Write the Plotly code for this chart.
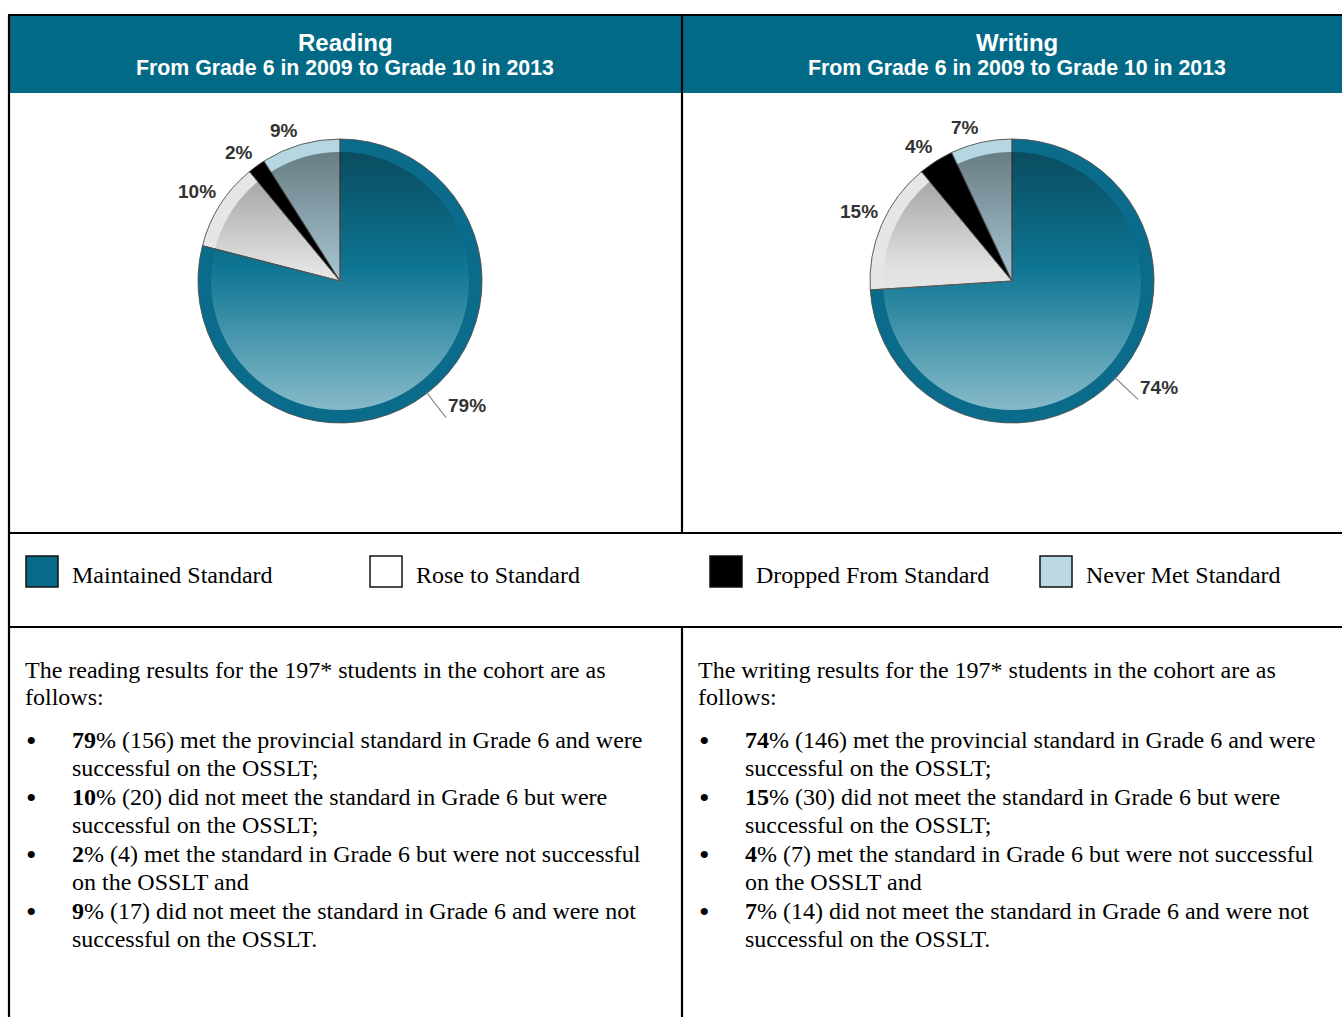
import base64
import math
import struct
import zlib

import numpy as np
import plotly.graph_objects as go

# ---- data ---------------------------------------------------------------
categories = ["Maintained Standard", "Rose to Standard",
              "Dropped From Standard", "Never Met Standard"]
reading_pct = [79, 10, 2, 9]
reading_n = [156, 20, 4, 17]
writing_pct = [74, 15, 4, 7]
writing_n = [146, 30, 7, 14]
cohort_size = 197
outcomes = [
    ("met the provincial standard in Grade 6 and were", "successful on the OSSLT;"),
    ("did not meet the standard in Grade 6 but were", "successful on the OSSLT;"),
    ("met the standard in Grade 6 but were not successful", "on the OSSLT and"),
    ("did not meet the standard in Grade 6 and were not", "successful on the OSSLT."),
]
panel_titles = ["Reading", "Writing"]
panel_subtitle = "From Grade 6 in 2009 to Grade 10 in 2013"

# ---- styling ------------------------------------------------------------
W, H = 1342, 1017
HEADER = "#026a87"
RIM = ["#0b6b8a", "#e6e6e6", "#000000", "#b6d7e2"]
FACE = ["#0f7694", "#e2e2e2", "#000000", "#a2c0cc"]
SWATCH = ["#056b88", "#ffffff", "#000000", "#b9d8e2"]
SANS = "Liberation Sans, Arial, sans-serif"
SERIF = "Liberation Serif, Times New Roman, serif"
BODY_SIZE = 24

R_OUT, R_IN = 142, 129
CENTERS = [(340, 281), (1012, 281)]


def fx(px):
    return px / W


def fy(py):
    return 1 - py / H


def domain(cx, cy, r):
    return dict(x=[fx(cx - r), fx(cx + r)], y=[fy(cy + r), fy(cy - r)])


def png_uri(rgba):
    h, w, _ = rgba.shape
    raw = b"".join(b"\x00" + rgba[i].tobytes() for i in range(h))

    def chunk(tag, data):
        body = tag + data
        return struct.pack(">I", len(data)) + body + struct.pack(">I", zlib.crc32(body) & 0xFFFFFFFF)

    png = (b"\x89PNG\r\n\x1a\n"
           + chunk(b"IHDR", struct.pack(">IIBBBBB", w, h, 8, 6, 0, 0, 0))
           + chunk(b"IDAT", zlib.compress(raw, 9))
           + chunk(b"IEND", b""))
    return "data:image/png;base64," + base64.b64encode(png).decode()


def shading(r):
    """Vertical light/dark shading for the inner face of a pie, clipped to a disc."""
    n = 2 * r
    yy, xx = np.mgrid[0:n, 0:n] + 0.5
    d = np.hypot(xx - r, yy - r)
    mask = np.clip(r - d + 0.5, 0, 1)
    t = yy / n
    dark = 0.35 * np.clip(1 - t / 0.45, 0, 1)
    light = 0.5 * np.clip((t - 0.45) / 0.55, 0, 1)
    rgb = np.where(dark > 0, 0, 255).astype(np.uint8)
    alpha = ((dark + light) * mask * 255).round().astype(np.uint8)
    img = np.zeros((n, n, 4), dtype=np.uint8)
    img[..., 0] = rgb
    img[..., 1] = rgb
    img[..., 2] = rgb
    img[..., 3] = alpha
    return png_uri(img)


def text(s, x, y, size, family, color="black", xanchor="left", yanchor="middle"):
    return dict(text=s, x=fx(x), y=fy(y), xref="paper", yref="paper", xanchor=xanchor,
                yanchor=yanchor, showarrow=False, align="left",
                font=dict(family=family, size=size, color=color))


fig = go.Figure()
shapes, annotations, images = [], [], []

shade_uri = shading(R_IN)

for k, (pct, counts) in enumerate([(reading_pct, reading_n), (writing_pct, writing_n)]):
    cx, cy = CENTERS[k]
    common = dict(labels=categories, values=pct, sort=False, direction="clockwise",
                  textinfo="none", hoverinfo="label+percent", showlegend=False)
    # outer rim
    fig.add_trace(go.Pie(domain=domain(cx, cy, R_OUT), marker=dict(colors=RIM, line=dict(width=0)), **common))
    # inner face
    fig.add_trace(go.Pie(domain=domain(cx, cy, R_IN), marker=dict(colors=FACE, line=dict(width=0)), **common))
    # slice outlines
    fig.add_trace(go.Pie(domain=domain(cx, cy, R_OUT),
                         marker=dict(colors=["rgba(0,0,0,0)"] * 4, line=dict(color="#4d4d4d", width=0.9)),
                         **common))
    images.append(dict(source=shade_uri, xref="paper", yref="paper",
                       x=fx(cx - R_IN), y=fy(cy - R_IN), sizex=2 * R_IN / W, sizey=2 * R_IN / H,
                       xanchor="left", yanchor="top", sizing="stretch", layer="above"))

    # percentage labels around each pie
    total = sum(pct)
    biggest = pct.index(max(pct))
    cum = 0
    for i, v in enumerate(pct):
        mid = (cum + v / 2) / total
        cum += v
        th = 2 * math.pi * mid
        dx, dy = math.sin(th), -math.cos(th)
        if i == biggest:
            x0, y0 = cx + dx * (R_OUT - 1), cy + dy * (R_OUT - 1)
            x1, y1 = cx + dx * (R_OUT + 31), cy + dy * (R_OUT + 31)
            shapes.append(dict(type="line", xref="paper", yref="paper",
                               x0=fx(x0), y0=fy(y0), x1=fx(x1), y1=fy(y1),
                               line=dict(color="#8a8a8a", width=1.2)))
            annotations.append(text(f"<b>{v}%</b>", x1, y1 - 12, 19, SANS, "#333333"))
        else:
            px, py = cx + dx * (R_OUT + 2), cy + dy * (R_OUT + 2)
            annotations.append(text(f"<b>{v}%</b>", px, py, 19, SANS, "#333333",
                                    xanchor="right" if dx < 0 else "left",
                                    yanchor="bottom" if dy < 0 else "top"))

    # header
    hx = (cx - 340) + 345
    annotations.append(text(f"<b>{panel_titles[k]}</b>", hx, 42, 24, SANS, "white", xanchor="center"))
    annotations.append(text(f"<b>{panel_subtitle}</b>", hx, 68, 21.3, SANS, "white", xanchor="center"))

    # description text below the legend
    ox = 673 * k
    subject = panel_titles[k].lower()
    annotations.append(text(f"The {subject} results for the {cohort_size}* students in the cohort are as",
                            23 + ox, 670, BODY_SIZE, SERIF))
    annotations.append(text("follows:", 23 + ox, 697, BODY_SIZE, SERIF))
    for i, (p, n) in enumerate(zip(pct, counts)):
        ly = 740 + 57 * i
        annotations.append(text("•", 31 + ox, ly, 30, SERIF, xanchor="center"))
        annotations.append(text(f"<b>{p}</b>% ({n}) {outcomes[i][0]}", 70 + ox, ly, BODY_SIZE, SERIF))
        annotations.append(text(outcomes[i][1], 70 + ox, ly + 28, BODY_SIZE, SERIF))

# legend row
swatch_x = [26, 370, 710, 1040]
for i, name in enumerate(categories):
    x0 = swatch_x[i]
    shapes.append(dict(type="rect", xref="paper", yref="paper",
                       x0=fx(x0), x1=fx(x0 + 32), y0=fy(587), y1=fy(556),
                       fillcolor=SWATCH[i], line=dict(color="#111111", width=1.5)))
    annotations.append(text(name, x0 + 44, 575, BODY_SIZE, SERIF))

# table frame
shapes.insert(0, dict(type="rect", xref="paper", yref="paper", x0=fx(9), x1=fx(W), y0=fy(93), y1=fy(15),
                      fillcolor=HEADER, line=dict(width=0), layer="below"))
frame = [
    (8, 15, W, 15), (9, 15, 9, H), (682, 15, 682, 533), (682, 627, 682, H),
    (8, 533, W, 533), (8, 627, W, 627),
]
for x0, y0, x1, y1 in frame:
    shapes.append(dict(type="line", xref="paper", yref="paper", x0=fx(x0), y0=fy(y0), x1=fx(x1), y1=fy(y1),
                       line=dict(color="black", width=2.2)))

fig.update_layout(width=W, height=H, margin=dict(l=0, r=0, t=0, b=0),
                  paper_bgcolor="white", plot_bgcolor="white",
                  shapes=shapes, annotations=annotations, images=images, showlegend=False)

fig.write_html("out.html")
